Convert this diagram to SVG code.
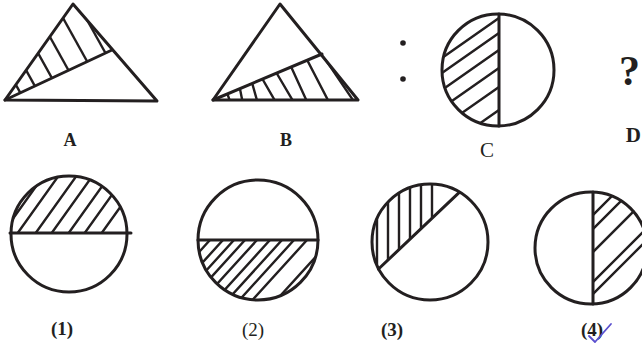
<svg xmlns="http://www.w3.org/2000/svg" width="642" height="345" viewBox="0 0 642 345">
<style>
.o{fill:none;stroke:#231f20;stroke-width:3;stroke-linejoin:round;stroke-linecap:round}
.h{fill:none;stroke:#231f20;stroke-width:2.4;stroke-linecap:round}
.lb{font-family:"Liberation Serif",serif;font-weight:bold;fill:#231f20;text-anchor:middle}
.lr{font-family:"Liberation Serif",serif;fill:#231f20;text-anchor:middle}
</style>
<defs>
<clipPath id="cA"><polygon points="5,100 73,4 112,50"/></clipPath>
<clipPath id="cB"><polygon points="213,100 322,54 358,100"/></clipPath>
<clipPath id="cC"><path d="M499,14 A56,56 0 0 0 499,126 Z"/></clipPath>
<clipPath id="c1"><path d="M11,234 A58,58 0 0 1 127,234 Z"/></clipPath>
<clipPath id="c2"><path d="M198,240 A60,60 0 0 0 318,240 Z"/></clipPath>
<clipPath id="c3"><path d="M378.5,269.1 A58,58 0 0 1 459.3,192.4 Z"/></clipPath>
<clipPath id="c4"><path d="M593,192 A56,56 0 0 1 593,304 Z"/></clipPath>
</defs>
<rect width="642" height="345" fill="#fff"/>

<g id="figA">
<g clip-path="url(#cA)" class="h">
<line x1="-14" y1="31" x2="46" y2="139"/>
<line x1="-4" y1="16" x2="56" y2="124"/>
<line x1="8" y1="-1" x2="68" y2="107"/>
<line x1="20" y1="-17" x2="80" y2="91"/>
<line x1="33" y1="-36" x2="93" y2="72"/>
<line x1="46" y1="-54" x2="106" y2="54"/>
</g>
<polygon class="o" points="5,100 73,4 157,101"/>
<line class="o" x1="5" y1="100" x2="112" y2="50"/>
<text class="lb" x="70" y="146" font-size="18">A</text>
</g>

<g id="figB">
<g clip-path="url(#cB)" class="h">
<line x1="226" y1="90" x2="231" y2="104"/>
<line x1="239" y1="84" x2="243" y2="104"/>
<line x1="251" y1="79" x2="258" y2="104"/>
<line x1="259" y1="73" x2="278" y2="106"/>
<line x1="273" y1="67" x2="296" y2="106"/>
<line x1="288" y1="60" x2="309" y2="106"/>
<line x1="303" y1="52" x2="331" y2="106"/>
<line x1="317" y1="47" x2="357" y2="106"/>
</g>
<polygon class="o" points="213,100 280,4 358,100"/>
<line class="o" x1="213" y1="100" x2="322" y2="54"/>
<text class="lb" x="286" y="146" font-size="18">B</text>
</g>

<g id="figC">
<circle cx="403" cy="43" r="2.8" fill="#231f20"/>
<circle cx="403" cy="79" r="2.8" fill="#231f20"/>
<g clip-path="url(#cC)" class="h">
<line x1="419" y1="74" x2="509" y2="11"/>
<line x1="419" y1="89" x2="509" y2="26"/>
<line x1="419" y1="106" x2="509" y2="43"/>
<line x1="419" y1="124" x2="509" y2="61"/>
<line x1="419" y1="143" x2="509" y2="80"/>
<line x1="419" y1="166" x2="509" y2="103"/>
</g>
<circle class="o" cx="498" cy="70" r="56"/>
<line class="o" x1="499" y1="14" x2="499" y2="126"/>
<text class="lr" x="487" y="157" font-size="21">C</text>
</g>

<g id="figD">
<text class="lb" x="640" y="85" font-size="42" style="text-anchor:end">?</text>
<text class="lb" x="641" y="142" font-size="21" style="text-anchor:end">D</text>
</g>

<g id="opt1">
<g clip-path="url(#c1)" class="h">
<line x1="2" y1="234" x2="62" y2="150"/>
<line x1="17" y1="234" x2="77" y2="150"/>
<line x1="35" y1="234" x2="95" y2="150"/>
<line x1="51" y1="234" x2="111" y2="150"/>
<line x1="68" y1="234" x2="128" y2="150"/>
<line x1="84" y1="234" x2="144" y2="150"/>
<line x1="101" y1="234" x2="161" y2="150"/>
</g>
<circle class="o" cx="69" cy="234" r="58"/>
<line class="o" x1="10" y1="233" x2="131" y2="233"/>
<text class="lb" x="62" y="335" font-size="19">(1)</text>
</g>

<g id="opt2">
<g clip-path="url(#c2)" class="h">
<line x1="210" y1="240" x2="140" y2="317"/>
<line x1="223" y1="240" x2="153" y2="317"/>
<line x1="234" y1="240" x2="164" y2="317"/>
<line x1="245" y1="240" x2="175" y2="317"/>
<line x1="257" y1="240" x2="187" y2="317"/>
<line x1="270" y1="240" x2="200" y2="317"/>
<line x1="282" y1="240" x2="212" y2="317"/>
<line x1="294" y1="240" x2="224" y2="317"/>
<line x1="307" y1="240" x2="237" y2="317"/>
<line x1="331" y1="240" x2="261" y2="317"/>
</g>
<circle class="o" cx="258" cy="240" r="60"/>
<line class="o" x1="198" y1="240" x2="318" y2="240"/>
<text class="lr" x="253" y="336" font-size="19">(2)</text>
</g>

<g id="opt3">
<g clip-path="url(#c3)" class="h">
<line x1="377" y1="180" x2="377" y2="275"/>
<line x1="388" y1="180" x2="388" y2="275"/>
<line x1="399" y1="180" x2="399" y2="275"/>
<line x1="410" y1="180" x2="410" y2="275"/>
<line x1="421" y1="180" x2="421" y2="275"/>
<line x1="432" y1="180" x2="432" y2="275"/>
</g>
<circle class="o" cx="430" cy="242" r="58"/>
<line class="o" x1="378.5" y1="269" x2="459.3" y2="192.4"/>
<text class="lb" x="392" y="336" font-size="19">(3)</text>
</g>

<g id="opt4">
<g clip-path="url(#c4)" class="h">
<line x1="590" y1="218" x2="660" y2="148"/>
<line x1="590" y1="232" x2="660" y2="162"/>
<line x1="590" y1="255" x2="660" y2="185"/>
<line x1="590" y1="285" x2="660" y2="215"/>
<line x1="590" y1="297" x2="660" y2="227"/>
</g>
<circle class="o" cx="591" cy="248" r="56"/>
<line class="o" x1="593" y1="192" x2="593" y2="304"/>
<text class="lb" x="592" y="336" font-size="19">(4)</text>
<path d="M589,336 L595,342 L611,324" fill="none" stroke="#5a4fcf" stroke-width="1.8" stroke-linecap="round" stroke-linejoin="round"/>
</g>
</svg>
